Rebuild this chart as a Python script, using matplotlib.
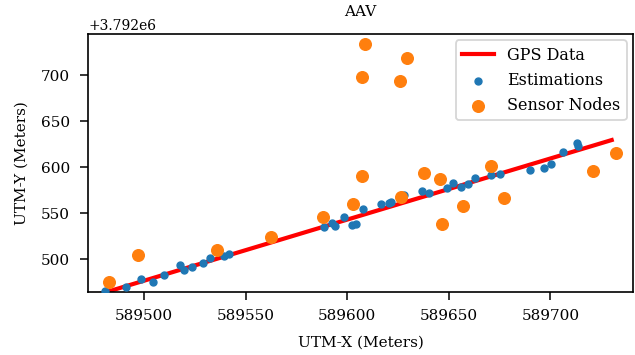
import matplotlib
matplotlib.use("Agg")
import matplotlib.pyplot as plt
import numpy as np

plt.rcParams['font.family'] = ['DejaVu Serif']
plt.rcParams['axes.linewidth'] = 1.2
plt.rcParams['xtick.major.size'] = 6
plt.rcParams['ytick.major.size'] = 6
plt.rcParams['xtick.major.width'] = 1.1
plt.rcParams['ytick.major.width'] = 1.1
plt.rcParams['xtick.major.pad'] = 6.5
plt.rcParams['ytick.major.pad'] = 7

y0 = 3792000

# GPS track (straight line, ends)
gps_x = [589476.0, 589730.2]
gps_y = [460.7, 629.4]

# estimated positions
est_x = [589480.6, 589490.8, 589498.4, 589504.4, 589509.7, 589517.6, 589519.6,
         589523.6, 589529.1, 589532.4, 589539.4, 589541.6, 589588.7, 589592.6,
         589594.0, 589598.6, 589602.2, 589604.3, 589607.7, 589616.5, 589620.6,
         589621.5, 589628.1, 589636.9, 589640.4, 589649.1, 589651.9, 589655.9,
         589659.6, 589662.9, 589670.8, 589675.2, 589690.2, 589697.1, 589700.2,
         589706.4, 589713.3, 589713.5]
est_y = [465.2, 469.6, 477.9, 475.0, 482.9, 493.2, 488.0,
         491.3, 496.2, 501.6, 503.3, 505.4, 535.1, 539.7,
         535.7, 546.0, 537.3, 538.6, 554.0, 559.8, 560.5,
         561.6, 569.9, 573.9, 572.3, 577.5, 583.2, 578.0,
         582.1, 587.8, 591.6, 592.2, 596.7, 599.2, 603.8,
         616.8, 625.8, 622.8]

# sensor node positions
node_x = [589482.8, 589496.7, 589536.0, 589562.6, 589588.2, 589603.0, 589607.1,
          589607.1, 589608.7, 589626.0, 589629.3, 589626.4, 589637.9, 589645.4,
          589646.6, 589657.1, 589670.9, 589677.3, 589720.8, 589732.5]
node_y = [474.7, 504.3, 509.5, 524.2, 545.3, 560.3, 590.0,
          698.2, 733.7, 693.8, 718.2, 567.9, 593.2, 587.2,
          538.3, 557.4, 601.3, 566.1, 596.2, 615.8]

fig = plt.figure(figsize=(6.35, 3.55), dpi=100)
ax = fig.add_axes([0.1386, 0.178, 0.8583, 0.7262])

ax.plot(gps_x, np.array(gps_y) + y0, color='red', lw=3, label='GPS Data')
ax.scatter(est_x, np.array(est_y) + y0, s=25, color='tab:blue', label='Estimations', zorder=3)
ax.scatter(node_x, np.array(node_y) + y0, s=70, color='tab:orange', label='Sensor Nodes', zorder=4)

ax.set_xlim(589472.3, 589740.7)
ax.set_ylim(y0 + 464.5, y0 + 744.6)
ax.set_xticks([589500, 589550, 589600, 589650, 589700])
ax.set_yticks(np.array([500, 550, 600, 650, 700]) + y0)

ax.set_xlabel('UTM-X (Meters)', fontsize=11, labelpad=9)
ax.set_ylabel('UTM-Y (Meters)', fontsize=11, labelpad=9)
ax.set_title('AAV', fontsize=11, pad=13)
ax.tick_params(labelsize=11)
leg = ax.legend(loc='upper right', fontsize=11.5, borderaxespad=0.4)
leg.get_frame().set_linewidth(1.3)

fig.savefig('out.png', dpi=100)
